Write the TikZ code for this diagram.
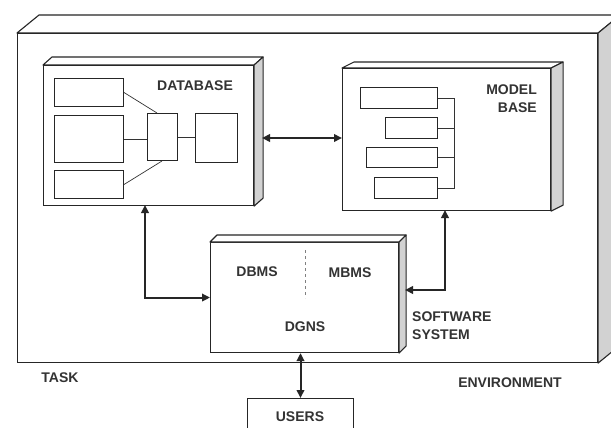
\documentclass[tikz,border=0pt]{standalone}
\usepackage{fontspec}
\setmainfont{Liberation Sans}
\usetikzlibrary{calc,arrows.meta}
\tikzset{
  front/.style={draw=black!85, line width=1.1pt, fill=white, anchor=north west, inner sep=0pt},
  face/.style={draw=black!85, line width=1.1pt, fill=white, line join=round},
  side/.style={draw=black!85, line width=1.1pt, fill=gray!35, line join=round},
  inner/.style={draw=black!85, line width=1pt, fill=white, anchor=north west, inner sep=0pt},
  thin/.style={draw=black!80, line width=0.7pt},
  link/.style={draw=black!85, line width=2pt, {Triangle[length=8pt,width=7.5pt]}-{Triangle[length=8pt,width=7.5pt]}},
  lbl/.style={font=\bfseries\fontsize{14}{18}\selectfont, text=black!80, inner sep=0pt}
}
\newcommand\depthfaces[3]{%
  \draw[face] (#1.north west) -- ++(#2,#3) -- ($(#1.north east)+(#2,#3)$) -- (#1.north east) -- cycle;
  \draw[side] (#1.north east) -- ++(#2,#3) -- ($(#1.south east)+(#2,#3)$) -- (#1.south east) -- cycle;}
\begin{document}
\begin{tikzpicture}[x=1pt,y=-1pt]
\clip (0,0) rectangle (611,428);
\fill[white] (0,0) rectangle (611,428);

% environment box
\node[front, minimum width=580pt, minimum height=329pt] (env) at (17,33) {};
\depthfaces{env}{22}{-18}

% database
\node[front, minimum width=210pt, minimum height=140pt] (db) at (43,65) {};
\depthfaces{db}{9}{-8}
\node[inner, minimum width=69pt, minimum height=28pt] (da) at (54,78) {};
\node[inner, minimum width=69pt, minimum height=47pt] (dbx) at (54,115) {};
\node[inner, minimum width=69pt, minimum height=28pt] (dc) at (54,170) {};
\node[inner, minimum width=30pt, minimum height=47pt] (dd) at (147,113) {};
\node[inner, minimum width=42pt, minimum height=49pt] (de) at (195,113) {};
\draw[thin] (da.east) -- ($(dd.north west)+(10,0)$);
\draw[thin] (dbx.east) -- (dbx.east -| dd.west);
\draw[thin] (dc.east) -- ($(dd.south west)+(15,0)$);
\draw[thin] (dd.east) -- (dd.east -| de.west);
\node[lbl] (dbl) at (195,86) {DATABASE};

% model base
\node[front, minimum width=208pt, minimum height=142pt] (mb) at (342,68) {};
\depthfaces{mb}{12}{-6}
\node[inner, minimum width=77pt, minimum height=21pt] (m1) at (360,87) {};
\node[inner, minimum width=52pt, minimum height=21pt] (m2) at (385,117) {};
\node[inner, minimum width=71pt, minimum height=20pt] (m3) at (366,147) {};
\node[inner, minimum width=63pt, minimum height=21pt] (m4) at (374,177) {};
\coordinate (bk) at (454,0);
\draw[thin] (m1.east) -- (m1.east -| bk) -- (m4.east -| bk) -- (m4.east);
\draw[thin] (m2.east) -- (m2.east -| bk);
\draw[thin] (m3.east) -- (m3.east -| bk);
\node[lbl, align=right, anchor=east] (mbl) at (537,99) {MODEL\\BASE};

% software system
\node[front, minimum width=188pt, minimum height=110pt] (sw) at (210,242) {};
\depthfaces{sw}{7}{-7}
\draw[black!50, line width=0.6pt, dashed] (305,250) -- (305,298);
\node[lbl] (dbms) at (257,272) {DBMS};
\node[lbl] (mbms) at (350,273) {MBMS};
\node[lbl] (dgns) at (305,327) {DGNS};
\node[lbl, align=left, anchor=west] (swl) at (412,326) {SOFTWARE\\SYSTEM};

% users
\node[inner, minimum width=106pt, minimum height=50pt] (users) at (247,398) {};
\node[lbl] (usl) at (300,417) {USERS};

% labels
\node[lbl] (task) at (60,378) {TASK};
\node[lbl] (envl) at (510,383) {ENVIRONMENT};

% connectors
\coordinate (dbr) at (262,138);
\draw[link] (dbr) -- (dbr -| mb.west);
\coordinate (dbb) at (145,205);
\draw[link] (dbb) |- (sw.west);
\coordinate (mbb) at (445,210);
\coordinate (swr) at (405,290);
\draw[link] (mbb) |- (swr);
\draw[link] (sw.south -| users.north) -- (users.north);
\end{tikzpicture}
\end{document}
